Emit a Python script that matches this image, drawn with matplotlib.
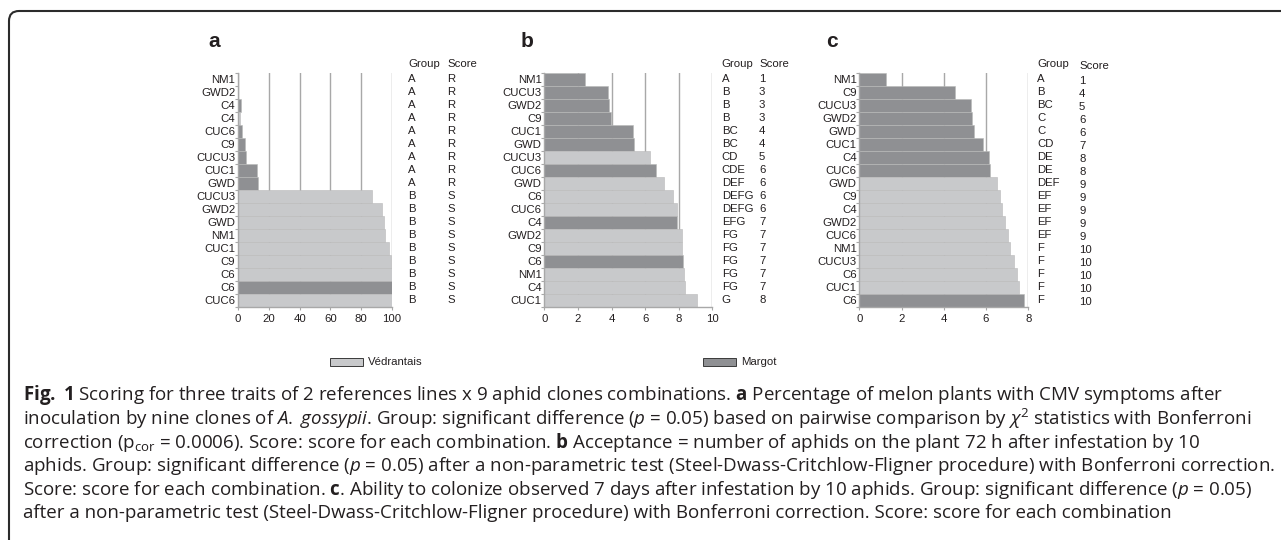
"""Fig. 1: scoring of 2 melon lines x 9 aphid clones for three traits."""
import matplotlib
matplotlib.use("Agg")
import matplotlib.pyplot as plt
import numpy as np
from matplotlib.patches import Rectangle
from matplotlib.path import Path
from matplotlib.patches import PathPatch
from matplotlib.transforms import blended_transform_factory

W, H = 1281, 540

# panel a: % plants with CMV symptoms (rows listed top to bottom)
labels_a = ["NM1", "GWD2", "C4", "C4", "CUC6", "C9", "CUCU3", "CUC1", "GWD",
            "CUCU3", "GWD2", "GWD", "NM1", "CUC1", "C9", "C6", "C6", "CUC6"]
values_a = [0, 0, 1.8, 1.2, 2.7, 4.4, 5.0, 12.4, 13.0,
            87.2, 93.6, 94.6, 95.2, 98.3, 99.5, 100, 100, 100]
lines_a = ["M", "M", "M", "V", "M", "M", "M", "M", "M",
           "V", "V", "V", "V", "V", "V", "V", "M", "V"]
groups_a = ["A"] * 9 + ["B"] * 9
scores_a = ["R"] * 9 + ["S"] * 9

# panel b: acceptance (aphids on plant after 72 h)
labels_b = ["NM1", "CUCU3", "GWD2", "C9", "CUC1", "GWD", "CUCU3", "CUC6", "GWD",
            "C6", "CUC6", "C4", "GWD2", "C9", "C6", "NM1", "C4", "CUC1"]
values_b = [2.42, 3.77, 3.85, 3.97, 5.30, 5.34, 6.29, 6.63, 7.12,
            7.66, 7.88, 7.90, 8.19, 8.19, 8.23, 8.31, 8.39, 9.09]
lines_b = ["M", "M", "M", "M", "M", "M", "V", "M", "V",
           "V", "V", "M", "V", "V", "M", "V", "V", "V"]
groups_b = ["A", "B", "B", "B", "BC", "BC", "CD", "CDE", "DEF",
            "DEFG", "DEFG", "EFG", "FG", "FG", "FG", "FG", "FG", "G"]
scores_b = ["1", "3", "3", "3", "4", "4", "5", "6", "6",
            "6", "6", "7", "7", "7", "7", "7", "7", "8"]

# panel c: ability to colonize after 7 days
labels_c = ["NM1", "C9", "CUCU3", "GWD2", "GWD", "CUC1", "C4", "CUC6", "GWD",
            "C9", "C4", "GWD2", "CUC6", "NM1", "CUCU3", "C6", "CUC1", "C6"]
values_c = [1.26, 4.51, 5.28, 5.35, 5.41, 5.85, 6.14, 6.20, 6.51,
            6.66, 6.75, 6.89, 7.03, 7.13, 7.32, 7.46, 7.55, 7.79]
lines_c = ["M"] * 8 + ["V"] * 9 + ["M"]
groups_c = ["A", "B", "BC", "C", "C", "CD", "DE", "DE", "DEF",
            "EF", "EF", "EF", "EF", "F", "F", "F", "F", "F"]
scores_c = ["1", "4", "5", "6", "6", "7", "8", "8", "9",
            "9", "9", "9", "9", "10", "10", "10", "10", "10"]

LINE_NAMES = {"V": "Védrantais", "M": "Margot"}
COLORS = {"V": "#c8c9cb", "M": "#8f9093"}
GRID = "#a8a8a8"
TXT = "#231f20"
FS = 8.2

CAPTION = [
    r"$\mathbf{Fig.}$ $\mathbf{1}$ Scoring for three traits of 2 references lines x 9 aphid clones combinations. "
    r"$\mathbf{a}$ Percentage of melon plants with CMV symptoms after",
    r"inoculation by nine clones of $\mathit{A.}$ $\mathit{gossypii}$. Group: significant difference "
    r"($\mathit{p}$ = 0.05) based on pairwise comparison by $\chi^{2}$ statistics with Bonferroni",
    r"correction ($\mathrm{p}_{\mathrm{cor}}$ = 0.0006). Score: score for each combination. "
    r"$\mathbf{b}$ Acceptance = number of aphids on the plant 72 h after infestation by 10",
    r"aphids. Group: significant difference ($\mathit{p}$ = 0.05) after a non-parametric test "
    r"(Steel-Dwass-Critchlow-Fligner procedure) with Bonferroni correction.",
    r"Score: score for each combination. $\mathbf{c}$. Ability to colonize observed 7 days after "
    r"infestation by 10 aphids. Group: significant difference ($\mathit{p}$ = 0.05)",
    r"after a non-parametric test (Steel-Dwass-Critchlow-Fligner procedure) with Bonferroni "
    r"correction. Score: score for each combination",
]

plt.rcParams["font.family"] = ["Liberation Sans", "DejaVu Sans"]
plt.rcParams["mathtext.fontset"] = "custom"
plt.rcParams["mathtext.rm"] = "Open Sans"
plt.rcParams["mathtext.it"] = "Open Sans:italic"
plt.rcParams["mathtext.bf"] = "Open Sans:bold"


def fx(x):
    return x / W


def fy(y):
    return 1 - y / H


def draw_panel(fig, box, labels, values, lines, groups, scores, xmax, xstep,
               letter, letter_x, group_x, score_x, score_dy=0.0):
    x0, x1, y0, y1 = box
    ax = fig.add_axes([fx(x0), fy(y1), (x1 - x0) / W, (y1 - y0) / H])
    n = len(labels)
    ax.barh(np.arange(n), values, height=1.0, color=[COLORS[l] for l in lines],
            edgecolor="#b9b9b9", linewidth=0.4, zorder=2)
    ax.set_xlim(0, xmax)
    ax.set_ylim(n - 0.5, -0.5)
    ax.set_xticks(np.arange(0, xmax + 0.01, xstep))
    ax.set_yticks(np.arange(-0.5, n, 1.0))
    ax.set_yticklabels([])
    ax.set_yticks(np.arange(n), minor=True)
    ax.set_yticklabels(labels, minor=True)
    ax.tick_params(axis="y", which="major", length=2.5, width=0.8, color=GRID)
    ax.tick_params(axis="y", which="minor", length=0, pad=2, labelsize=FS, labelcolor=TXT)
    ax.tick_params(axis="x", length=2.5, width=0.8, color=GRID, pad=2.5,
                   labelsize=FS, labelcolor=TXT)
    ax.grid(axis="x", color=GRID, linewidth=1.0)
    ax.set_axisbelow(True)
    for side in ("top", "right"):
        ax.spines[side].set_visible(False)
    for side in ("left", "bottom"):
        ax.spines[side].set_color(GRID)
        ax.spines[side].set_linewidth(1.0)

    tr = blended_transform_factory(fig.transFigure, ax.transData)
    ax.text(fx(group_x), -1.15, "Group", transform=tr, fontsize=FS, color=TXT, va="center")
    ax.text(fx(score_x), -1.15 + score_dy, "Score", transform=tr, fontsize=FS, color=TXT, va="center")
    for i, (g, s) in enumerate(zip(groups, scores)):
        ax.text(fx(group_x), i, g, transform=tr, fontsize=FS, color=TXT, va="center")
        ax.text(fx(score_x), i + score_dy, s, transform=tr, fontsize=FS, color=TXT, va="center")
    fig.text(fx(letter_x), fy(42), letter, fontsize=15, fontweight="bold", color=TXT,
             ha="center", va="center")
    return ax


fig = plt.figure(figsize=(W / 100, H / 100), dpi=100)

draw_panel(fig, (238, 392, 72.7, 306.7), labels_a, values_a, lines_a, groups_a, scores_a,
           100, 20, "a", 214, 408, 447)
draw_panel(fig, (544.3, 712.3, 72.7, 306.7), labels_b, values_b, lines_b, groups_b, scores_b,
           10, 2, "b", 527, 721.7, 759)
draw_panel(fig, (859.3, 1028.3, 72.7, 306.7), labels_c, values_c, lines_c, groups_c, scores_c,
           8, 2, "c", 832, 1037, 1079, score_dy=0.12)

# legend
for key, px in (("V", 330), ("M", 703)):
    fig.patches.append(Rectangle((fx(px), fy(366)), 33 / W, 8 / H, transform=fig.transFigure,
                                 facecolor=COLORS[key], edgecolor="#3a3a3a", linewidth=0.7))
    fig.text(fx(px + 38), fy(362), LINE_NAMES[key], fontsize=FS, color=TXT, va="center")

# caption
for i, line in enumerate(CAPTION):
    fig.text(fx(23), fy(395 + i * 23.7), line, fontsize=13.5, family="Open Sans",
             color=TXT, va="center")

# frame: left and top rules with a rounded corner
r = 10
verts = [(fx(9), fy(H + 2)), (fx(9), fy(11 + r)), (fx(9), fy(11)), (fx(9 + r), fy(11)),
         (fx(W + 2), fy(11))]
codes = [Path.MOVETO, Path.LINETO, Path.CURVE3, Path.CURVE3, Path.LINETO]
fig.patches.append(PathPatch(Path(verts, codes), transform=fig.transFigure, fill=False,
                             edgecolor="#2b2b2b", linewidth=1.5))

fig.savefig("out.png", dpi=100)
